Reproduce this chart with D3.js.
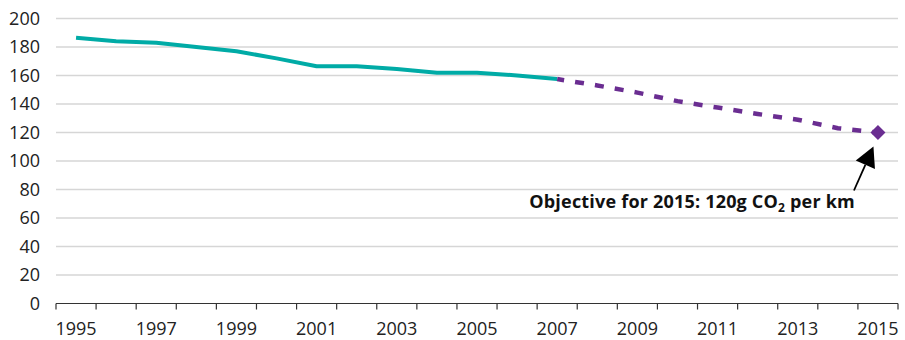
<!DOCTYPE html>
<html>
<head>
<meta charset="utf-8">
<script src="https://cdn.jsdelivr.net/npm/d3@7"></script>
<style>
  html, body { margin: 0; padding: 0; background: #fff; }
  svg { display: block; }
  text { font-family: "Open Sans", sans-serif; }
</style>
</head>
<body>
<svg id="chart" width="905" height="340"></svg>
<script>
// ---- Data ----
const years = [1995,1996,1997,1998,1999,2000,2001,2002,2003,2004,2005,2006,2007,2008,2009,2010,2011,2012,2013,2014,2015];
const actualYears = [1995,1996,1997,1998,1999,2000,2001,2002,2003,2004,2005,2006,2007];
const actualValues = [186.5,184,183,180,177,172,166.5,166.5,164.5,162,162,160,157.5];
const pathYears = [2007,2008,2009,2010,2011,2012,2013,2014,2015];
const pathValues = [157.5,153,148,142,137.5,133,129,123,120];
const targetYear = 2015;
const targetValue = 120;
const yTicks = [0,20,40,60,80,100,120,140,160,180,200];
const xTickLabels = [1995,1997,1999,2001,2003,2005,2007,2009,2011,2013,2015];
const annotation = "Objective for 2015: 120g CO";
const annotationSub = "2";
const annotationTail = " per km";

// ---- Layout ----
const svg = d3.select("#chart");
const mLeft = 56, mRight = 898, mTop = 18.5, mBottom = 303.5;

const x = d3.scaleBand().domain(years).range([mLeft, mRight]).paddingInner(0).paddingOuter(0);
const xc = yr => x(yr) + x.bandwidth() / 2;
const y = d3.scaleLinear().domain([0, 200]).range([mBottom, mTop]);

// Gridlines
svg.append("g").selectAll("line")
  .data(yTicks.filter(v => v > 0))
  .join("line")
  .attr("x1", mLeft).attr("x2", mRight)
  .attr("y1", d => y(d)).attr("y2", d => y(d))
  .attr("stroke", "#d6d6d6").attr("stroke-width", 1.5);

// Y axis labels
const yAxis = svg.append("g").attr("transform", `translate(${mLeft},0)`)
  .call(d3.axisLeft(y).tickValues(yTicks).tickSize(0).tickPadding(16).tickFormat(d3.format("d")));
yAxis.select(".domain").remove();
yAxis.selectAll("text").attr("font-size", 18).attr("fill", "#222").style("font-family", "'Open Sans', sans-serif");

// X axis line + boundary ticks
const xg = svg.append("g").attr("transform", `translate(0,${mBottom})`);
xg.append("line").attr("x1", mLeft).attr("x2", mRight).attr("y1", 0).attr("y2", 0)
  .attr("stroke", "#333").attr("stroke-width", 1.2);
const boundaries = years.map(yr => x(yr)).concat([x(years[years.length-1]) + x.bandwidth()]);
xg.selectAll("line.tk").data(boundaries).join("line").attr("class", "tk")
  .attr("x1", d => d).attr("x2", d => d).attr("y1", 0).attr("y2", 6)
  .attr("stroke", "#333").attr("stroke-width", 1.2);

const xAxis = svg.append("g").attr("transform", `translate(0,${mBottom})`)
  .call(d3.axisBottom(x).tickValues(xTickLabels).tickSize(0));
xAxis.select(".domain").remove();
xAxis.selectAll("text").attr("font-size", 18).attr("fill", "#222")
  .attr("y", 31).attr("dy", 0).style("font-family", "'Open Sans', sans-serif");

// Actual line
const line = d3.line().x(d => xc(d[0])).y(d => y(d[1]));
svg.append("path")
  .datum(actualYears.map((yr, i) => [yr, actualValues[i]]))
  .attr("d", line)
  .attr("fill", "none").attr("stroke", "#00aba6").attr("stroke-width", 4)
  .attr("stroke-linejoin", "round");

// Projected dashed path
svg.append("path")
  .datum(pathYears.map((yr, i) => [yr, pathValues[i]]))
  .attr("d", line)
  .attr("fill", "none").attr("stroke", "#6a2d91").attr("stroke-width", 4.5)
  .attr("stroke-dasharray", "9,11.1").attr("stroke-dashoffset", 2);

// Target diamond
svg.append("path")
  .attr("d", d3.symbol(d3.symbolSquare, 112)())
  .attr("transform", `translate(${xc(targetYear)},${y(targetValue)}) rotate(45)`)
  .attr("fill", "#6a2d91");

// Arrow annotation
const tipX = xc(targetYear) - 4.5, tipY = y(targetValue) + 14;
const tailX = xc(targetYear) - 24, tailY = y(targetValue) + 58;
const ang = Math.atan2(tipY - tailY, tipX - tailX);
const headLen = 20, headHalf = 10.5;
const bx = tipX - headLen * Math.cos(ang), by = tipY - headLen * Math.sin(ang);
svg.append("line")
  .attr("x1", tailX).attr("y1", tailY).attr("x2", bx).attr("y2", by)
  .attr("stroke", "#000").attr("stroke-width", 1.8);
svg.append("path")
  .attr("d", `M${tipX},${tipY} L${bx + headHalf * Math.sin(ang)},${by - headHalf * Math.cos(ang)} L${bx - headHalf * Math.sin(ang)},${by + headHalf * Math.cos(ang)} Z`)
  .attr("fill", "#000");

const t = svg.append("text")
  .attr("x", tailX + 1).attr("y", y(100) + 46.5)
  .attr("text-anchor", "end")
  .attr("font-size", 18).attr("font-weight", "bold").attr("fill", "#111")
  .attr("letter-spacing", 0.2);
t.append("tspan").text(annotation);
t.append("tspan").attr("font-size", 12).attr("dy", 4).text(annotationSub);
t.append("tspan").attr("dy", -4).text(annotationTail);
</script>
</body>
</html>
